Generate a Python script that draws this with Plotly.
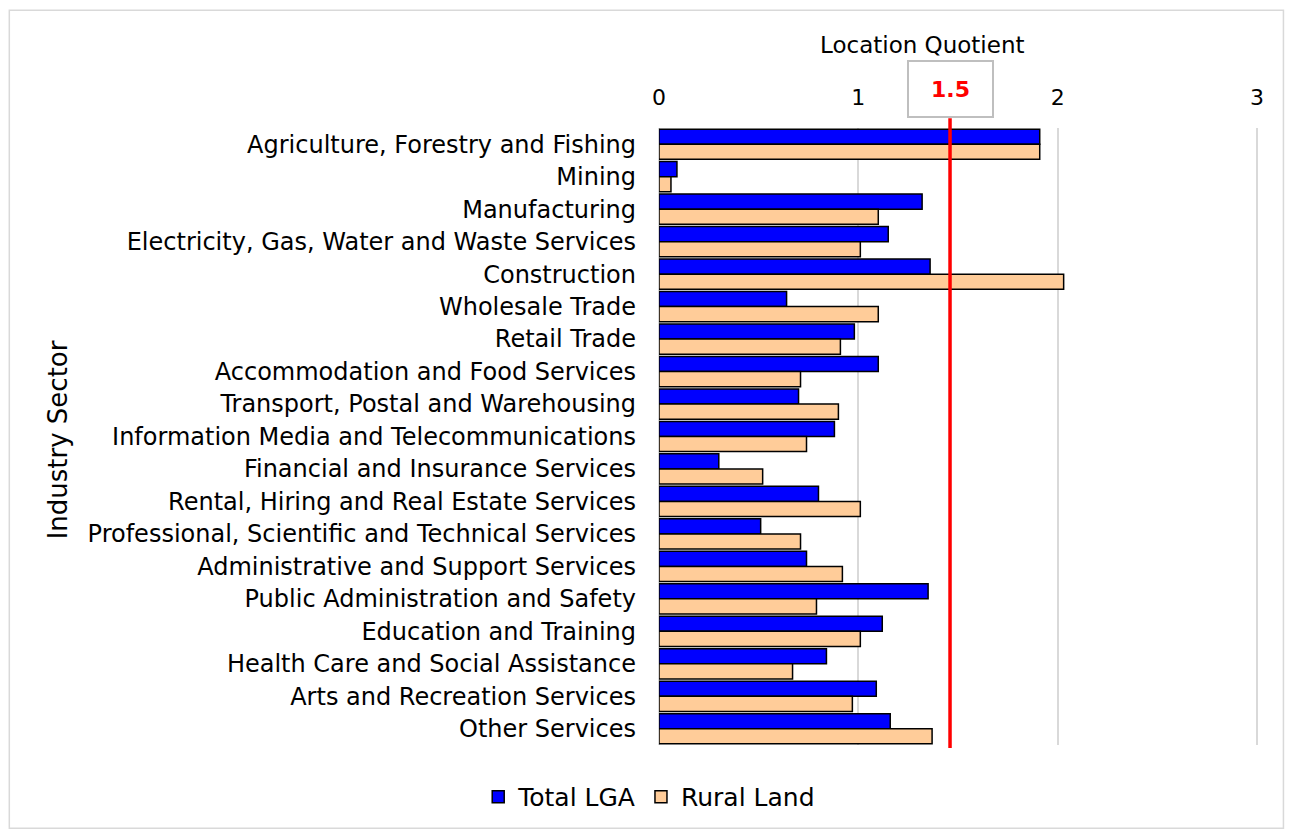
import plotly.graph_objects as go

# Location quotient by industry sector
sectors = [
    'Agriculture, Forestry and Fishing', 'Mining', 'Manufacturing',
    'Electricity, Gas, Water and Waste Services', 'Construction',
    'Wholesale Trade', 'Retail Trade', 'Accommodation and Food Services',
    'Transport, Postal and Warehousing', 'Information Media and Telecommunications',
    'Financial and Insurance Services', 'Rental, Hiring and Real Estate Services',
    'Professional, Scientific and Technical Services',
    'Administrative and Support Services', 'Public Administration and Safety',
    'Education and Training', 'Health Care and Social Assistance',
    'Arts and Recreation Services', 'Other Services',
]
total_lga = [1.91, 0.09, 1.32, 1.15, 1.36, 0.64, 0.98, 1.10, 0.70, 0.88,
             0.30, 0.80, 0.51, 0.74, 1.35, 1.12, 0.84, 1.09, 1.16]
rural_land = [1.91, 0.06, 1.10, 1.01, 2.03, 1.10, 0.91, 0.71, 0.90, 0.74,
              0.52, 1.01, 0.71, 0.92, 0.79, 1.01, 0.67, 0.97, 1.37]
x_ticks = [0, 1, 2, 3]
threshold_pos = 1.46
threshold_label = '1.5'

FONT = 'DejaVu Sans'

fig = go.Figure()
fig.add_trace(go.Bar(y=sectors, x=total_lga, orientation='h', name='Total LGA',
                     marker=dict(color='#0000FF', line=dict(color='black', width=1.5))))
fig.add_trace(go.Bar(y=sectors, x=rural_land, orientation='h', name='Rural Land',
                     marker=dict(color='#FFCC99', line=dict(color='black', width=1.5))))

# threshold line and its label box
fig.add_shape(type='line', xref='x', yref='paper', x0=threshold_pos, x1=threshold_pos,
              y0=-0.005, y1=1.016, line=dict(color='#FF0000', width=3.5))
fig.add_annotation(x=threshold_pos, xref='x', y=1.016, yref='paper', yanchor='bottom',
                   text='<b>' + threshold_label + '</b>', showarrow=False,
                   font=dict(family=FONT, size=22, color='#FF0000'),
                   bordercolor='#BFBFBF', borderwidth=2, bgcolor='white',
                   width=81, height=52)
# axis titles
fig.add_annotation(x=0.438, xref='paper', y=1.134, yref='paper', yanchor='middle',
                   text='Location Quotient', showarrow=False, font=dict(size=23))
fig.add_annotation(x=-1.028, xref='paper', y=0.494, yref='paper', textangle=-90,
                   text='Industry Sector', showarrow=False, font=dict(size=26))
# outer frame
fig.add_shape(type='rect', xref='paper', yref='paper', x0=-1.081, x1=1.039, y0=-0.135, y1=1.191,
              line=dict(color='#D9D9D9', width=1.5))

# page body adds 8px, so the figure is 8px smaller and the left/top margins shrink by 8
fig.update_layout(
    width=1285, height=821,
    margin=dict(l=651, r=33, t=120, b=84),
    paper_bgcolor='white', plot_bgcolor='white',
    font=dict(family=FONT, size=19, color='black'),
    barmode='group', bargap=0.07, bargroupgap=0,
    showlegend=True,
    legend=dict(orientation='h', xref='container', yref='container', x=0.499, xanchor='center',
                y=0.039, yanchor='middle', font=dict(size=25), itemwidth=30),
    xaxis=dict(side='top', range=[0, 3.015], tickvals=x_ticks, showgrid=True,
               gridcolor='#D9D9D9', gridwidth=1.5, zeroline=True, zerolinecolor='#D9D9D9',
               showline=False, ticks='', tickfont=dict(size=22), automargin=False,
               ticklabelstandoff=18),
    yaxis=dict(autorange='reversed', showgrid=False, ticks='', showline=False,
               tickfont=dict(size=24), automargin=False, ticklabelstandoff=22),
)

fig.write_html('out.html')
